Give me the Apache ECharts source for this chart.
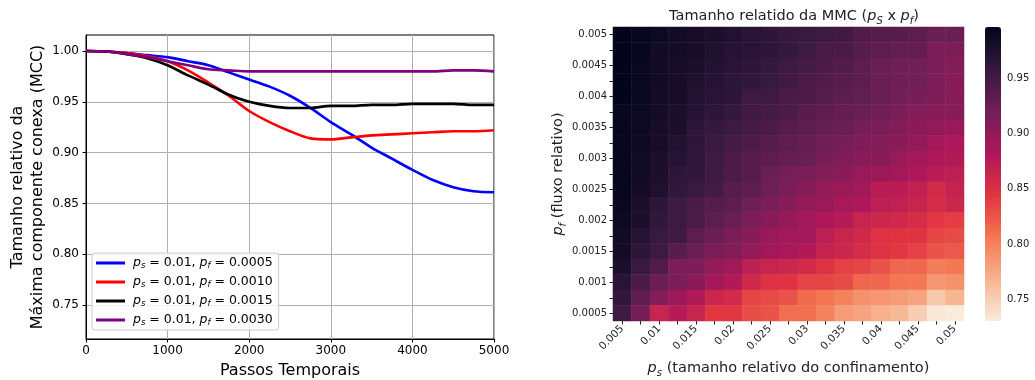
<!DOCTYPE html>
<html>
<head>
<meta charset="utf-8">
<script src="https://cdn.jsdelivr.net/npm/echarts@6/dist/echarts.min.js"></script>
<style>
  html, body { margin: 0; padding: 0; background: #fff; }
  #chart { width: 1035px; height: 380px; }
</style>
</head>
<body>
<div id="chart"></div>
<script>
// left panel: relative size of the largest connected component over time
const steps = [0, 250, 500, 750, 1000, 1250, 1500, 1750, 2000, 2250, 2500, 2750, 3000, 3250, 3500, 3750, 4000, 4250, 4500, 4750, 5000]
const mccPf0005 = [1.000, 0.9995, 0.998, 0.996, 0.994, 0.990, 0.986, 0.979, 0.972, 0.965, 0.956, 0.944, 0.930, 0.918, 0.905, 0.894, 0.883, 0.873, 0.866, 0.862, 0.861]
const mccPf0010 = [1.000, 0.9995, 0.998, 0.995, 0.990, 0.981, 0.969, 0.956, 0.941, 0.930, 0.921, 0.914, 0.913, 0.915, 0.917, 0.918, 0.919, 0.920, 0.921, 0.921, 0.922]
const mccPf0015 = [1.000, 0.9995, 0.997, 0.993, 0.986, 0.976, 0.967, 0.957, 0.950, 0.946, 0.944, 0.944, 0.946, 0.946, 0.947, 0.947, 0.948, 0.948, 0.948, 0.947, 0.947]
const mccPf0030 = [1.000, 0.9995, 0.997, 0.994, 0.990, 0.986, 0.982, 0.981, 0.980, 0.980, 0.980, 0.980, 0.980, 0.980, 0.980, 0.980, 0.980, 0.980, 0.981, 0.981, 0.980]
const lineNames = ['0.0005', '0.0010', '0.0015', '0.0030']
const lineColors = ['#0000ff', '#ff0000', '#000000', '#800080']
const lineYTicks = [0.75, 0.80, 0.85, 0.90, 0.95, 1.00]

// right panel: heatmap p_s x p_f
const psLabels = ['0.005', '0.0075', '0.01', '0.0125', '0.015', '0.0175', '0.02', '0.0225', '0.025', '0.0275', '0.03', '0.0325', '0.035', '0.0375', '0.04', '0.0425', '0.045', '0.0475', '0.05']
const pfLabels = ['0.0005', '0.00075', '0.001', '0.00125', '0.0015', '0.00175', '0.002', '0.00225', '0.0025', '0.00275', '0.003', '0.00325', '0.0035', '0.00375', '0.004', '0.00425', '0.0045', '0.00475', '0.005']
// rows from top (p_f = 0.005) down to bottom (p_f = 0.0005)
const mmcRows = [
  [0.997, 0.994, 0.989, 0.984, 0.981, 0.978, 0.973, 0.968, 0.965, 0.960, 0.957, 0.954, 0.952, 0.941, 0.938, 0.936, 0.933, 0.925, 0.925],
  [0.997, 0.994, 0.986, 0.984, 0.981, 0.976, 0.970, 0.968, 0.965, 0.960, 0.954, 0.946, 0.946, 0.938, 0.933, 0.930, 0.930, 0.914, 0.914],
  [0.997, 0.992, 0.986, 0.981, 0.978, 0.973, 0.968, 0.965, 0.960, 0.954, 0.949, 0.944, 0.941, 0.933, 0.925, 0.922, 0.920, 0.914, 0.909],
  [0.997, 0.992, 0.986, 0.981, 0.976, 0.970, 0.965, 0.962, 0.957, 0.952, 0.944, 0.941, 0.936, 0.933, 0.925, 0.922, 0.920, 0.914, 0.906],
  [0.997, 0.992, 0.984, 0.981, 0.973, 0.968, 0.965, 0.954, 0.954, 0.946, 0.944, 0.938, 0.933, 0.930, 0.925, 0.920, 0.917, 0.912, 0.906],
  [0.994, 0.989, 0.984, 0.978, 0.970, 0.965, 0.960, 0.952, 0.949, 0.944, 0.936, 0.933, 0.928, 0.925, 0.922, 0.914, 0.909, 0.906, 0.906],
  [0.994, 0.989, 0.981, 0.978, 0.965, 0.960, 0.954, 0.949, 0.944, 0.938, 0.933, 0.928, 0.925, 0.917, 0.914, 0.909, 0.904, 0.901, 0.896],
  [0.994, 0.989, 0.981, 0.973, 0.965, 0.957, 0.949, 0.944, 0.938, 0.933, 0.928, 0.922, 0.917, 0.912, 0.909, 0.906, 0.901, 0.888, 0.882],
  [0.994, 0.986, 0.978, 0.970, 0.962, 0.954, 0.944, 0.938, 0.933, 0.928, 0.925, 0.917, 0.912, 0.906, 0.906, 0.896, 0.890, 0.882, 0.880],
  [0.994, 0.986, 0.978, 0.965, 0.962, 0.952, 0.944, 0.938, 0.925, 0.917, 0.914, 0.909, 0.904, 0.896, 0.893, 0.888, 0.882, 0.874, 0.872],
  [0.994, 0.984, 0.976, 0.962, 0.957, 0.949, 0.936, 0.933, 0.922, 0.914, 0.906, 0.898, 0.893, 0.890, 0.874, 0.874, 0.869, 0.856, 0.866],
  [0.992, 0.978, 0.965, 0.954, 0.946, 0.938, 0.933, 0.922, 0.914, 0.906, 0.898, 0.893, 0.885, 0.882, 0.872, 0.869, 0.864, 0.853, 0.861],
  [0.989, 0.978, 0.962, 0.954, 0.944, 0.933, 0.925, 0.914, 0.906, 0.898, 0.890, 0.882, 0.877, 0.864, 0.861, 0.858, 0.853, 0.842, 0.839],
  [0.986, 0.970, 0.957, 0.952, 0.933, 0.925, 0.914, 0.906, 0.896, 0.890, 0.888, 0.872, 0.864, 0.858, 0.847, 0.845, 0.845, 0.834, 0.831],
  [0.984, 0.965, 0.954, 0.936, 0.925, 0.914, 0.909, 0.898, 0.890, 0.885, 0.880, 0.866, 0.861, 0.853, 0.847, 0.842, 0.837, 0.826, 0.823],
  [0.978, 0.957, 0.941, 0.914, 0.912, 0.898, 0.890, 0.872, 0.864, 0.861, 0.856, 0.847, 0.837, 0.834, 0.826, 0.815, 0.815, 0.802, 0.805],
  [0.968, 0.946, 0.925, 0.914, 0.904, 0.888, 0.880, 0.858, 0.847, 0.845, 0.834, 0.834, 0.831, 0.815, 0.815, 0.807, 0.805, 0.786, 0.789],
  [0.962, 0.933, 0.909, 0.893, 0.880, 0.861, 0.856, 0.834, 0.831, 0.826, 0.813, 0.807, 0.799, 0.789, 0.786, 0.783, 0.778, 0.754, 0.767],
  [0.952, 0.917, 0.864, 0.877, 0.864, 0.842, 0.842, 0.829, 0.826, 0.810, 0.810, 0.799, 0.783, 0.778, 0.770, 0.765, 0.751, 0.733, 0.730]
]
const colorbarTicks = [0.75, 0.80, 0.85, 0.90, 0.95]
const colorMin = 0.730
const colorMax = 0.997
// seaborn "rocket" reversed (light -> dark)
const rocketR = ['#faebdd', '#f6b48f', '#f37651', '#e13342', '#ad1759', '#701f57', '#35193e', '#03051a']

const font = 'DejaVu Sans'
const mathRich = {
  it: { fontStyle: 'italic', fontFamily: font, fontSize: 12.5, lineHeight: 14 },
  sub: { fontStyle: 'italic', fontFamily: font, fontSize: 8.5, lineHeight: 8, verticalAlign: 'bottom' }
}
const mathRichBig = {
  it: { fontStyle: 'italic', fontFamily: font, fontSize: 14.5, lineHeight: 19 },
  sub: { fontStyle: 'italic', fontFamily: font, fontSize: 10, lineHeight: 10, verticalAlign: 'bottom' }
}

const series = [mccPf0005, mccPf0010, mccPf0015, mccPf0030].map((vals, i) => ({
  name: lineNames[i],
  type: 'line',
  xAxisIndex: 0,
  yAxisIndex: 0,
  data: steps.map((s, j) => [s, vals[j]]),
  showSymbol: false,
  smooth: 0.3,
  lineStyle: { color: lineColors[i], width: 2.6 },
  itemStyle: { color: lineColors[i] }
}))

const heatData = []
mmcRows.forEach((row, r) => {
  row.forEach((v, c) => heatData.push([c, pfLabels.length - 1 - r, v]))
})
series.push({
  type: 'heatmap',
  xAxisIndex: 1,
  yAxisIndex: 1,
  data: heatData,
  itemStyle: { borderWidth: 0 },
  emphasis: { disabled: true }
})

const chart = echarts.init(document.getElementById('chart'), null, { renderer: 'canvas' })
chart.setOption({
  animation: false,
  textStyle: { fontFamily: font },
  title: {
    text: 'Tamanho relatido da MMC ({it|p}{sub|S} x {it|p}{sub|f})',
    left: 789,
    top: 2,
    textAlign: 'center',
    textStyle: { fontFamily: font, fontSize: 14.5, fontWeight: 'normal', color: '#222', rich: mathRichBig }
  },
  legend: {
    orient: 'vertical',
    left: 92,
    top: 253,
    padding: [3, 6, 3, 4],
    itemGap: 5,
    itemWidth: 29,
    itemHeight: 3,
    icon: 'rect',
    backgroundColor: 'rgba(255,255,255,0.85)',
    borderColor: '#cccccc',
    borderWidth: 1,
    borderRadius: 3,
    data: lineNames,
    formatter: name => '{it|p}{sub|s} = 0.01, {it|p}{sub|f} = ' + name,
    textStyle: { fontFamily: font, fontSize: 12.5, color: '#000', lineHeight: 14, padding: [0, 0, 0, 3], rich: mathRich }
  },
  grid: [
    { left: 86, top: 35, width: 408, height: 304, show: true, borderColor: '#000', borderWidth: 1, outerBoundsMode: 'none' },
    { left: 613, top: 27, width: 351, height: 294, outerBoundsMode: 'none' },
    { left: 985, top: 27, width: 16, height: 294, outerBoundsMode: 'none' }
  ],
  xAxis: [
    {
      gridIndex: 0,
      type: 'value',
      min: 0,
      max: 5000,
      interval: 1000,
      name: 'Passos Temporais',
      nameLocation: 'middle',
      nameGap: 24,
      nameTextStyle: { fontFamily: font, fontSize: 16, color: '#000' },
      axisLine: { show: true, lineStyle: { color: '#000' } },
      axisTick: { show: true, inside: false, length: 3.5, lineStyle: { color: '#000' } },
      axisLabel: { fontFamily: font, fontSize: 12, color: '#000', margin: 6, formatter: v => String(v) },
      splitLine: { show: true, lineStyle: { color: '#b0b0b0', width: 1 } }
    },
    {
      gridIndex: 1,
      type: 'category',
      data: psLabels,
      name: '{it|p}{sub|s} (tamanho relativo do confinamento)',
      nameLocation: 'middle',
      nameGap: 38,
      nameTextStyle: { fontFamily: font, fontSize: 14.5, color: '#222', rich: mathRichBig },
      axisLine: { show: false },
      axisTick: { show: true, alignWithLabel: true, interval: 0, length: 3.5, lineStyle: { color: '#222' } },
      axisLabel: { interval: 1, rotate: 45, fontFamily: font, fontSize: 10.5, color: '#222', margin: 6 },
      splitLine: { show: false }
    },
    { gridIndex: 2, type: 'value', min: 0, max: 1, show: false }
  ],
  yAxis: [
    {
      gridIndex: 0,
      type: 'value',
      min: 0.7165,
      max: 1.0158,
      name: 'Tamanho relativo da\nMáxima componente conexa (MCC)',
      nameLocation: 'middle',
      nameGap: 38,
      nameTextStyle: { fontFamily: font, fontSize: 16, color: '#000', lineHeight: 20 },
      axisLine: { show: true, lineStyle: { color: '#000' } },
      axisTick: { show: true, length: 3.5, customValues: lineYTicks, lineStyle: { color: '#000' } },
      axisLabel: { fontFamily: font, fontSize: 12, color: '#000', margin: 7, customValues: lineYTicks, formatter: v => v.toFixed(2) },
      splitLine: { show: true, lineStyle: { color: '#b0b0b0', width: 1 } }
    },
    {
      gridIndex: 1,
      type: 'category',
      data: pfLabels,
      name: '{it|p}{sub|f} (fluxo relativo)',
      nameLocation: 'middle',
      nameGap: 44,
      nameTextStyle: { fontFamily: font, fontSize: 14.5, color: '#222', rich: mathRichBig },
      axisLine: { show: false },
      axisTick: { show: true, alignWithLabel: true, interval: 0, length: 3.5, lineStyle: { color: '#222' } },
      axisLabel: { interval: 1, fontFamily: font, fontSize: 10, color: '#222', margin: 6 },
      splitLine: { show: false }
    },
    {
      gridIndex: 2,
      type: 'value',
      position: 'right',
      min: colorMin,
      max: colorMax,
      axisLine: { show: false },
      axisTick: { show: true, length: 3.5, customValues: colorbarTicks, lineStyle: { color: '#222' } },
      axisLabel: { fontFamily: font, fontSize: 10, color: '#222', margin: 6, customValues: colorbarTicks, formatter: v => v.toFixed(2) },
      splitLine: { show: false }
    }
  ],
  visualMap: {
    type: 'continuous',
    seriesIndex: 4,
    min: colorMin,
    max: colorMax,
    calculable: false,
    left: 985,
    top: 27,
    padding: 0,
    itemWidth: 16,
    itemHeight: 294,
    inRange: { color: rocketR }
  },
  series
})
</script>
</body>
</html>
